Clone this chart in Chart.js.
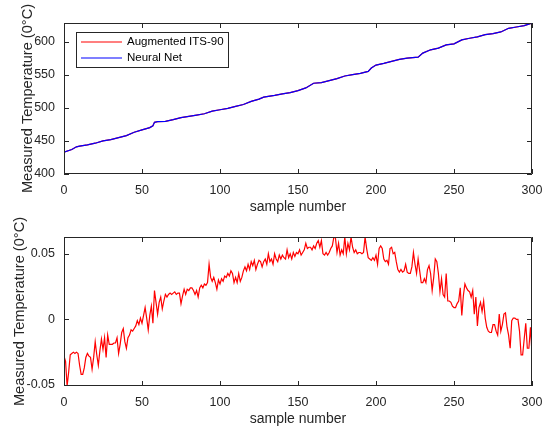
<!DOCTYPE html>
<html>
<head>
<meta charset="utf-8">
<script src="https://cdn.jsdelivr.net/npm/chart.js@4.4.0/dist/chart.umd.min.js"></script>
<style>
  body { margin: 0; background: #fff; }
  canvas { position: absolute; left: 0; }
  #topChart { top: 0; }
  #bottomChart { top: 215px; }
</style>
</head>
<body>
<canvas id="topChart" width="547" height="215"></canvas>
<canvas id="bottomChart" width="547" height="211"></canvas>
<script>
// tick labels
const xTicks = [0, 50, 100, 150, 200, 250, 300];
const topYTicks = [400, 450, 500, 550, 600];
const bottomYTicks = [-0.05, 0, 0.05];

// top panel: measured temperature
const topSamples = [0, 5, 8, 10, 15, 20, 25, 30, 35, 40, 45, 50, 55, 57, 58, 60, 65, 70, 75, 80, 85, 90, 95,
  100, 105, 110, 115, 120, 125, 128, 135, 140, 145, 150, 155, 160, 165, 170, 175, 180, 185, 190, 195,
  197, 200, 205, 210, 215, 220, 227, 230, 235, 240, 245, 250, 255, 260, 265, 270, 275, 280, 285, 290, 295, 300];
const topTemps = [433, 437, 441, 442, 444, 446.5, 450, 452, 455, 458, 463, 466.7, 470, 472.7, 478, 479, 479.5, 482, 485, 487, 489, 491, 495,
  497, 499, 502, 505, 509.6, 513, 516, 518.7, 521, 523, 526, 530, 537, 538, 541, 544, 548, 550, 552, 555,
  560, 564.5, 567, 570, 573, 575, 576.5, 582.5, 587.5, 590, 595, 596.5, 602.5, 605, 607, 610.5, 612, 614.5, 620, 622, 624, 628];

// bottom panel: difference per sample (0..300)
const errorValues = [
  -0.028, -0.032, -0.0508, -0.040, -0.027, -0.026, -0.025, -0.026, -0.025, -0.026,
  -0.035, -0.042, -0.042, -0.037, -0.029, -0.026, -0.028, -0.029, -0.038, -0.029,
  -0.017, -0.027, -0.035, -0.024, -0.015, -0.023, -0.014, -0.029, -0.012, -0.019,
  -0.019, -0.019, -0.018, -0.018, -0.014, -0.026, -0.019, -0.010, -0.007, -0.017,
  -0.022, -0.014, -0.012, -0.008, -0.009, -0.007, -0.005, -0.001, -0.004, 0.001,
  -0.003, 0.003, 0.009, 0.001, -0.008, 0.003, 0.010, -0.003, 0.022, 0.013,
  0.004, 0.013, 0.017, 0.008, 0.014, 0.019, 0.017, 0.019, 0.020, 0.019,
  0.020, 0.021, 0.019, 0.020, 0.020, 0.012, 0.018, 0.023, 0.019, 0.023,
  0.022, 0.024, 0.024, 0.022, 0.019, 0.022, 0.017, 0.024, 0.026, 0.024,
  0.027, 0.026, 0.028, 0.042, 0.032, 0.029, 0.032, 0.028, 0.023, 0.030,
  0.027, 0.031, 0.029, 0.033, 0.032, 0.035, 0.033, 0.037, 0.035, 0.028,
  0.032, 0.028, 0.035, 0.029, 0.032, 0.037, 0.040, 0.037, 0.042, 0.038,
  0.044, 0.041, 0.045, 0.038, 0.042, 0.045, 0.044, 0.040, 0.044, 0.046,
  0.042, 0.050, 0.044, 0.046, 0.042, 0.050, 0.046, 0.044, 0.049, 0.046,
  0.049, 0.047, 0.046, 0.053, 0.047, 0.050, 0.046, 0.051, 0.048, 0.051,
  0.050, 0.053, 0.049, 0.051, 0.053, 0.058, 0.054, 0.055, 0.055, 0.053,
  0.056, 0.054, 0.058, 0.060, 0.055, 0.060, 0.050, 0.049, 0.051, 0.049,
  0.051, 0.054, 0.056, 0.0628, 0.062, 0.051, 0.058, 0.049, 0.053, 0.050,
  0.0628, 0.050, 0.058, 0.053, 0.0628, 0.055, 0.051, 0.053, 0.050, 0.051,
  0.051, 0.050, 0.051, 0.0628, 0.054, 0.047, 0.046, 0.045, 0.047, 0.045,
  0.049, 0.042, 0.054, 0.056, 0.054, 0.046, 0.044, 0.045, 0.042, 0.054,
  0.055, 0.050, 0.051, 0.044, 0.038, 0.036, 0.038, 0.036, 0.037, 0.042,
  0.036, 0.035, 0.035, 0.040, 0.051, 0.042, 0.035, 0.046, 0.037, 0.028,
  0.028, 0.031, 0.028, 0.038, 0.041, 0.035, 0.022, 0.032, 0.046, 0.044,
  0.035, 0.021, 0.031, 0.019, 0.017, 0.035, 0.014, 0.014, 0.013, 0.010,
  0.009, 0.009, 0.012, 0.014, 0.024, 0.003, 0.018, 0.027, 0.024, 0.022,
  0.021, 0.017, 0.022, 0.004, 0.017, -0.005, 0.009, 0.013, 0.006, 0.014,
  0.001, -0.006, -0.009, -0.010, -0.010, -0.004, -0.004, -0.009, -0.012, 0.004,
  -0.009, -0.004, 0.004, 0.005, -0.006, -0.012, -0.022, -0.001, 0.001, 0.001,
  0.000, 0.000, -0.009, -0.027, -0.027, -0.015, -0.003, -0.022, -0.022, -0.006,
  -0.026
];

const axisColor = '#262626';
const tickFont = { family: 'Liberation Sans, Arial, sans-serif', size: 12.5 };
const xTitleFont = { family: 'Liberation Sans, Arial, sans-serif', size: 14, lineHeight: 1 };
const yTitleFont = { family: 'Liberation Sans, Arial, sans-serif', size: 14.6, lineHeight: 1 };

// box around plot + inward ticks + legend, matlab style
const boxPlugin = {
  id: 'boxPlugin',
  afterDraw(chart) {
    const ctx = chart.ctx;
    const a = chart.chartArea;
    const xs = chart.scales.x, ys = chart.scales.y;
    const len = 5;
    ctx.save();
    ctx.strokeStyle = axisColor;
    ctx.lineWidth = 1;
    ctx.beginPath();
    ctx.rect(a.left + 0.5, a.top + 0.5, a.right - a.left - 1, a.bottom - a.top - 1);
    xs.ticks.forEach(t => {
      const p = Math.round(xs.getPixelForValue(t.value)) + 0.5;
      ctx.moveTo(p, a.bottom); ctx.lineTo(p, a.bottom - len);
      ctx.moveTo(p, a.top); ctx.lineTo(p, a.top + len);
    });
    ys.ticks.forEach(t => {
      const p = Math.round(ys.getPixelForValue(t.value)) + 0.5;
      ctx.moveTo(a.left, p); ctx.lineTo(a.left + len, p);
      ctx.moveTo(a.right, p); ctx.lineTo(a.right - len, p);
    });
    ctx.stroke();

    const lg = chart.options.plugins.boxPlugin;
    if (lg && lg.legend) {
      const lx = a.left + 12, ly = a.top + 9, lw = 152, lh = 35;
      ctx.fillStyle = '#fff';
      ctx.fillRect(lx, ly, lw, lh);
      ctx.strokeRect(lx + 0.5, ly + 0.5, lw, lh);
      ctx.font = '11.5px "Liberation Sans", Arial, sans-serif';
      ctx.textBaseline = 'middle';
      chart.data.datasets.forEach((ds, i) => {
        const y = ly + 10 + i * 16;
        ctx.strokeStyle = ds.borderColor;
        ctx.lineWidth = 1.2;
        ctx.beginPath();
        ctx.moveTo(lx + 5, y); ctx.lineTo(lx + 46, y);
        ctx.stroke();
        ctx.fillStyle = '#000';
        ctx.fillText(ds.label, lx + 51, y);
      });
    }
    ctx.restore();
  }
};

function makeOptions(yMin, yMax, yTicks, padTop, xHeight, titleBottom, yTitlePad, legend) {
  return {
    responsive: false,
    animation: false,
    devicePixelRatio: 1,
    layout: { padding: { top: padTop, right: 15, left: 0, bottom: 0 } },
    elements: { point: { radius: 0 }, line: { tension: 0 } },
    plugins: { legend: { display: false }, tooltip: { enabled: false }, boxPlugin: { legend: legend } },
    scales: {
      x: {
        type: 'linear', min: 0, max: 300,
        afterBuildTicks: s => { s.ticks = xTicks.map(v => ({ value: v })); },
        afterFit: s => { s.height = xHeight; s.paddingLeft = 0; s.paddingRight = 0; },
        grid: { display: false, drawTicks: false },
        border: { display: false },
        ticks: { font: tickFont, color: axisColor, padding: 9, maxRotation: 0, autoSkip: false },
        title: { display: true, text: 'sample number', font: xTitleFont, color: axisColor, padding: { top: 0, bottom: titleBottom } }
      },
      y: {
        type: 'linear', min: yMin, max: yMax,
        afterBuildTicks: s => { s.ticks = yTicks.map(v => ({ value: v })); },
        afterFit: s => { s.width = 64; s.paddingTop = 0; s.paddingBottom = 0; },
        grid: { display: false, drawTicks: false },
        border: { display: false },
        ticks: { font: tickFont, color: axisColor, padding: 9, callback: v => String(v) },
        title: { display: true, text: 'Measured Temperature (0°C)', font: yTitleFont, color: axisColor, padding: { top: yTitlePad, bottom: 0 } }
      }
    }
  };
}

function toPoints(xs, ys) {
  return ys.map((v, i) => ({ x: xs[i], y: v }));
}

function createCharts() {
  new Chart(document.getElementById('topChart').getContext('2d'), {
    type: 'line',
    data: {
      datasets: [
        { label: 'Augmented ITS-90', data: toPoints(topSamples, topTemps), borderColor: '#ff0000', borderWidth: 1.2, order: 1 },
        { label: 'Neural Net', data: toPoints(topSamples, topTemps), borderColor: '#0000ff', borderWidth: 1.2, order: 0 }
      ]
    },
    options: makeOptions(400, 628, topYTicks, 23, 41, 1, 21, true),
    plugins: [boxPlugin]
  });

  new Chart(document.getElementById('bottomChart').getContext('2d'), {
    type: 'line',
    data: {
      datasets: [
        { label: 'Error', data: errorValues.map((v, i) => ({ x: i, y: v })), borderColor: '#ff0000', borderWidth: 1.2 }
      ]
    },
    options: makeOptions(-0.0508, 0.0628, bottomYTicks, 22, 40, 0, 13, false),
    plugins: [boxPlugin]
  });
}

window.addEventListener('load', createCharts);
</script>
</body>
</html>
